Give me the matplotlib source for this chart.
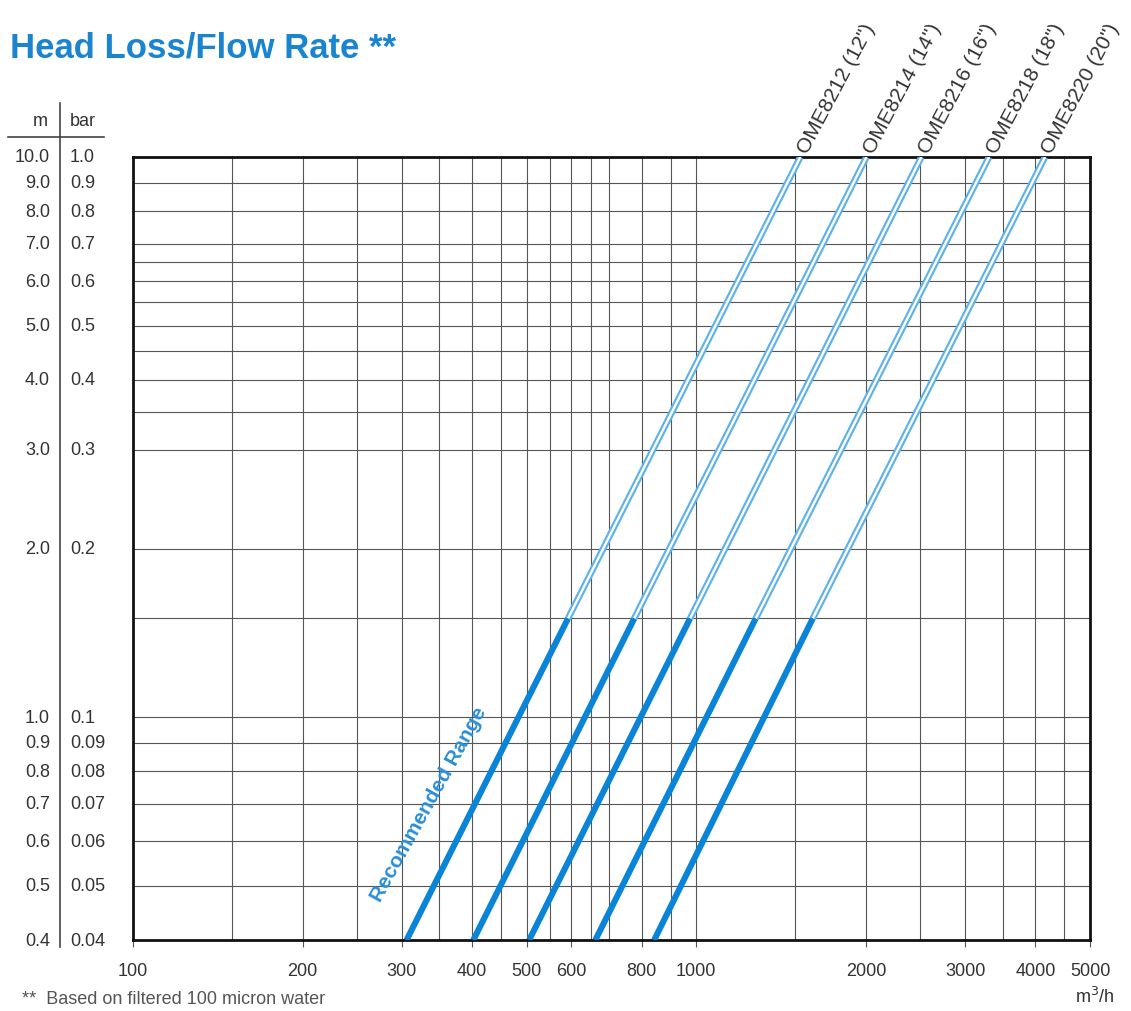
import matplotlib
matplotlib.use("Agg")
import matplotlib.pyplot as plt
from matplotlib.lines import Line2D
from matplotlib.ticker import NullLocator, FixedLocator

# Series: flow (m3/h) where each model line crosses
# 0.4 m, 1.5 m (end of recommended range) and 10 m head loss
models = ['OME8212 (12")', 'OME8214 (14")', 'OME8216 (16")', 'OME8218 (18")', 'OME8220 (20")']
head_pts = [0.4, 1.5, 10.0]
q_low = [306, 402, 505, 662, 842]
q_rec = [592, 776, 975, 1275, 1610]
q_top = [1530, 2005, 2510, 3310, 4160]

# axis labelling
x_tick_vals = [100, 200, 300, 400, 500, 600, 800, 1000, 2000, 3000, 4000, 5000]
x_grid_vals = [150, 200, 250, 300, 350, 400, 450, 500, 550, 600, 650, 700, 800, 900,
               1000, 1500, 2000, 2500, 3000, 3500, 4000, 4500]
y_m_vals = [0.4, 0.5, 0.6, 0.7, 0.8, 0.9, 1.0, 2.0, 3.0, 4.0, 5.0, 6.0, 7.0, 8.0, 9.0, 10.0]
y_m_labels = ["0.4", "0.5", "0.6", "0.7", "0.8", "0.9", "1.0", "2.0", "3.0", "4.0",
              "5.0", "6.0", "7.0", "8.0", "9.0", "10.0"]
y_bar_labels = ["0.04", "0.05", "0.06", "0.07", "0.08", "0.09", "0.1", "0.2", "0.3", "0.4",
                "0.5", "0.6", "0.7", "0.8", "0.9", "1.0"]
y_grid_vals = [0.5, 0.6, 0.7, 0.8, 0.9, 1.0, 1.5, 2.0, 3.0, 3.5, 4.0, 4.5, 5.0, 5.5,
               6.0, 6.5, 7.0, 8.0, 9.0]

BLUE = "#0a84d6"
LIGHT = "#5fb2e8"
TXT = "#333333"
NARROW = ["Liberation Sans Narrow", "Liberation Sans", "DejaVu Sans"]

W, H = 1131, 1012
fig = plt.figure(figsize=(W / 100, H / 100), dpi=100)

# plot box in pixel coords: x 133..1090, y 158..941
L, R, T, B = 133, 1090, 158, 941
ax = fig.add_axes([L / W, (H - B) / H, (R - L) / W, (B - T) / H])
ax.set_xscale("log")
ax.set_yscale("log")
ax.set_xlim(100, 5000)
ax.set_ylim(0.4, 10.0)

for v in x_grid_vals:
    ax.axvline(v, color="#555555", lw=0.8, zorder=1)
for v in y_grid_vals:
    ax.axhline(v, color="#555555", lw=0.8, zorder=1)

for s in ax.spines.values():
    s.set_linewidth(2.0)
    s.set_color("#111111")

ax.xaxis.set_major_locator(FixedLocator(x_tick_vals))
ax.xaxis.set_minor_locator(NullLocator())
ax.yaxis.set_major_locator(NullLocator())
ax.yaxis.set_minor_locator(NullLocator())
ax.set_xticklabels([str(v) for v in x_tick_vals], fontsize=13, color=TXT, family=NARROW)
ax.tick_params(axis="x", length=5, width=0.8, color="#555555", pad=11, direction="out")

# model lines: thick solid = recommended range, double outline above
for i, name in enumerate(models):
    ax.plot([q_low[i], q_rec[i]], head_pts[:2], color=BLUE, lw=4.4,
            solid_capstyle="butt", zorder=4)
    ax.plot([q_rec[i], q_top[i]], head_pts[1:], color=LIGHT, lw=4.8,
            solid_capstyle="butt", zorder=3)
    ax.plot([q_rec[i], q_top[i]], head_pts[1:], color="white", lw=1.7,
            solid_capstyle="butt", zorder=3.5)
    ax.annotate(name, xy=(q_top[i], 10.0), xytext=(5, 2), textcoords="offset points",
                rotation=62, rotation_mode="anchor", ha="left", va="baseline",
                fontsize=15, color=TXT, family=NARROW, annotation_clip=False)

ax.text(335, 0.70, "Recommended Range", rotation=61, rotation_mode="anchor",
        ha="center", va="center", fontsize=15, color="#2a8ed6",
        fontweight="bold", family=["Liberation Sans", "DejaVu Sans"])

# left m / bar columns
ytr = ax.get_yaxis_transform()
for v, lm, lb in zip(y_m_vals, y_m_labels, y_bar_labels):
    ax.text((50 - L) / (R - L), v, lm, transform=ytr, ha="right", va="center",
            fontsize=13, color=TXT, family=NARROW, clip_on=False)
    ax.text((70 - L) / (R - L), v, lb, transform=ytr, ha="left", va="center",
            fontsize=13, color=TXT, family=NARROW, clip_on=False)

fig.text(48 / W, 1 - 122 / H, "m", ha="right", va="center", fontsize=13,
         color=TXT, family=NARROW)
fig.text(70 / W, 1 - 122 / H, "bar", ha="left", va="center", fontsize=13,
         color=TXT, family=NARROW)
fig.add_artist(Line2D([60 / W, 60 / W], [1 - 104 / H, 1 - 948 / H],
                      transform=fig.transFigure, color="#444444", lw=1.2))
fig.add_artist(Line2D([8 / W, 104 / W], [1 - 138 / H, 1 - 138 / H],
                      transform=fig.transFigure, color="#444444", lw=1.2))

fig.text(1095 / W, 1 - 997 / H, "m$^3$/h", ha="center", va="center", fontsize=13,
         color=TXT, family=NARROW)

fig.text(10 / W, 1 - 48 / H, "Head Loss/Flow Rate **", ha="left", va="center",
         fontsize=25, fontweight="bold", color="#1a84cf",
         family=["Liberation Sans", "DejaVu Sans"])

# footnote (cut off by the bottom edge in the original, kept visible here)
fig.text(22 / W, 1 - 1000 / H, "**  Based on filtered 100 micron water", ha="left",
         va="center", fontsize=13, color="#555555",
         family=["Liberation Sans", "DejaVu Sans"])

fig.savefig("out.png", dpi=100, facecolor="white")
